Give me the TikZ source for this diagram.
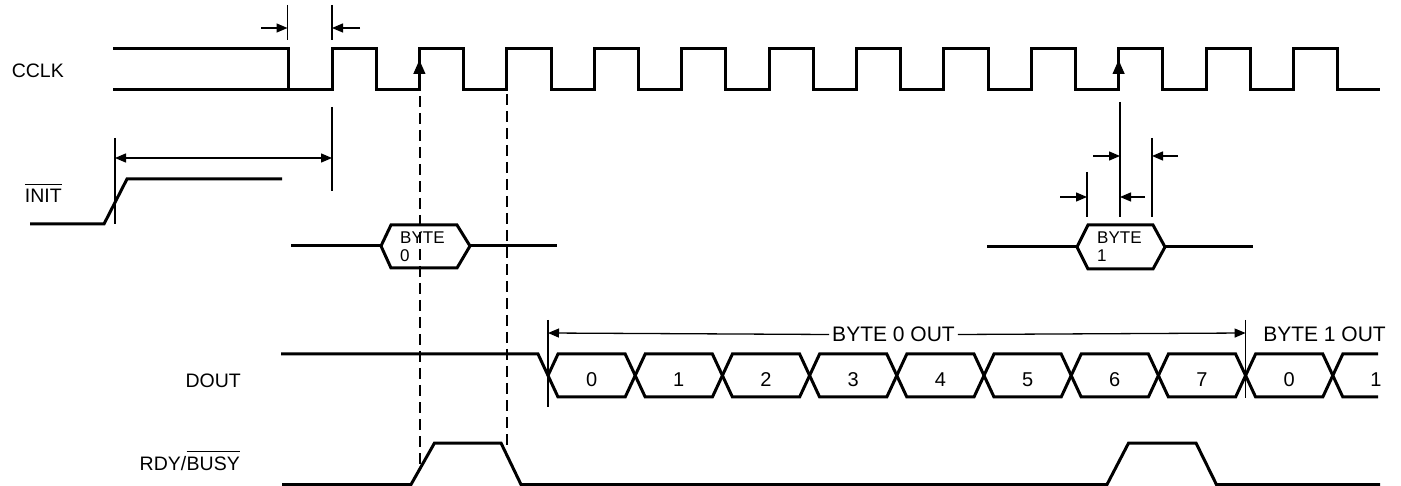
\documentclass[tikz,border=0pt]{standalone}
\usepackage{fontspec}
\setmainfont{Liberation Sans}
\usetikzlibrary{arrows.meta}
\begin{document}
\begin{tikzpicture}[x=1pt,y=-1pt,
  wave/.style={line width=3pt},
  thinl/.style={line width=1.3pt},
  dimarrow/.style={line width=1.3pt,-{Triangle[length=11pt,width=9pt]}},
  dimboth/.style={line width=1.3pt,{Triangle[length=11pt,width=9pt]}-{Triangle[length=11pt,width=9pt]}},
  edgearrow/.style={line width=1.3pt,-{Triangle[length=14pt,width=12pt]}},
  dashln/.style={line width=1.3pt,dash pattern=on 11pt off 6pt},
  lbl/.style={inner sep=0pt,font=\fontsize{19.5}{23}\selectfont},
  small/.style={inner sep=0pt,font=\fontsize{17}{20}\selectfont},
  big/.style={inner sep=0pt,inner xsep=3pt,font=\fontsize{21}{25}\selectfont},
  digit/.style={inner sep=0pt,font=\fontsize{20}{24}\selectfont}]
\useasboundingbox (0,0) rectangle (1401,486);

% ---------- labels ----------
\node[lbl,anchor=base east] (cclk) at (64,78) {CCLK};
\node[lbl,anchor=base east] (init) at (62,203) {INIT};
\draw[thinl] ([yshift=5pt]init.north west) -- ([yshift=5pt]init.north east);
\node[lbl,anchor=base east] (dout) at (241,387.5) {DOUT};
\node[lbl,anchor=base east] (busy) at (240,470) {BUSY};
\node[lbl,anchor=base east] (rdy) at (busy.base west) {RDY/};
\draw[thinl] ([yshift=5pt]busy.north west) -- ([yshift=5pt]busy.north east);

% ---------- CCLK ----------
\draw[wave] (113,90) -- (288,90);
\draw[wave] (113,49) -- (288,49) -- (288,90) -- (332,90)
  \foreach \k in {0,...,11} { -- ({332+87.4*\k},90) -- ({332+87.4*\k},49)
     -- ({376.2+87.4*\k},49) -- ({376.2+87.4*\k},90) } -- (1380,90);
\draw[edgearrow] (419.4,82) -- (419.4,60);
\draw[edgearrow] (1118.6,82) -- (1118.6,60);

% top timing marks
\coordinate (m1) at (287.5,28);
\coordinate (m2) at (332,28);
\draw[thinl] (287.5,5) -- (287.5,40);
\draw[thinl] (332,5) -- (332,40);
\draw[dimarrow] (261,28) -- (m1);
\draw[dimarrow] (360,28) -- (m2);

% ---------- INIT ----------
\draw[wave] (30,224) -- (104,224) -- (127,179) -- (282,179);
\draw[thinl] (115,138) -- (115,224);
\draw[thinl] (332,107) -- (332,191);
\coordinate (i1) at (115,158);
\coordinate (i2) at (332,158);
\draw[dimboth] (i1) -- (i2);

% ---------- BYTE 0 ----------
\draw[wave] (291,246) -- (381,246);
\draw[wave] (381,246) -- (391,225) -- (457,225) -- (470,246) -- (457,268) -- (391,268) -- cycle;
\draw[wave] (470,246) -- (557,246);
\node[small,anchor=base west] (b0a) at (400,243.5) {BYTE};
\node[small,anchor=base west] (b0b) at (400,261.7) {0};

% ---------- BYTE 1 ----------
\draw[wave] (987,247) -- (1077,247);
\draw[wave] (1077,247) -- (1088,225) -- (1153,225) -- (1165,247) -- (1153,269) -- (1088,269) -- cycle;
\draw[wave] (1165,247) -- (1253,247);
\node[small,anchor=base west] (b1a) at (1097,244) {BYTE};
\node[small,anchor=base west] (b1b) at (1097,261.7) {1};

% timing marks near BYTE 1
\draw[thinl] (1087,172) -- (1087,217);
\draw[thinl] (1120,102) -- (1120,217);
\draw[thinl] (1152,138) -- (1152,217);
\coordinate (t1) at (1120,156);
\coordinate (t2) at (1152,156);
\coordinate (t3) at (1087,197);
\coordinate (t4) at (1120,197);
\draw[dimarrow] (1093,156) -- (t1);
\draw[dimarrow] (1178,156) -- (t2);
\draw[dimarrow] (1060,197) -- (t3);
\draw[dimarrow] (1145,197) -- (t4);

% ---------- dashed guides ----------
\draw[dashln] (420,96) -- (420,465);
\draw[dashln] (507,94) -- (507,447);

% ---------- DOUT ----------
\draw[wave] (281,354) -- (538,354) -- (558,397) -- (625.2,397) -- (645.2,354) -- (712.4,354)
  -- (732.4,397) -- (799.6,397) -- (819.6,354) -- (886.8,354) -- (906.8,397) -- (974,397)
  -- (994,354) -- (1061.2,354) -- (1081.2,397) -- (1148.4,397) -- (1168.4,354) -- (1235.6,354)
  -- (1255.6,397) -- (1322.8,397) -- (1342.8,354) -- (1378,354);
\draw[wave] (548,375.5) -- (558,354) -- (625.2,354) -- (645.2,397) -- (712.4,397) -- (732.4,354)
  -- (799.6,354) -- (819.6,397) -- (886.8,397) -- (906.8,354) -- (974,354) -- (994,397)
  -- (1061.2,397) -- (1081.2,354) -- (1148.4,354) -- (1168.4,397) -- (1235.6,397) -- (1255.6,354)
  -- (1322.8,354) -- (1342.8,397) -- (1378,397);
\foreach \x/\d [count=\i] in {591.6/0,678.8/1,766/2,853.2/3,940.4/4,1027.6/5,1114.8/6,1202/7,1289.2/0,1376/1}
  \node[digit] (d\i) at (\x,380) {\d};

% BYTE OUT markers
\draw[thinl] (548,320) -- (548,407);
\draw[thinl] (1245.6,320) -- (1245.6,398);
\coordinate (o1) at (548,333);
\coordinate (o2) at (1245.6,333);
\node[big] (bo0) at (893.5,334.5) {BYTE 0 OUT};
\node[big] (bo1) at (1324.5,334.5) {BYTE 1 OUT};
\draw[dimarrow] (bo0.west) -- (o1);
\draw[dimarrow] (bo0.east) -- (o2);

% ---------- RDY/BUSY ----------
\draw[wave] (282,484.5) -- (411,484.5) -- (434.5,443) -- (501,443) -- (521,484.5) -- (1107,484.5)
  -- (1128.6,443) -- (1196,443) -- (1216.4,484.5) -- (1380,484.5);
\end{tikzpicture}
\end{document}
